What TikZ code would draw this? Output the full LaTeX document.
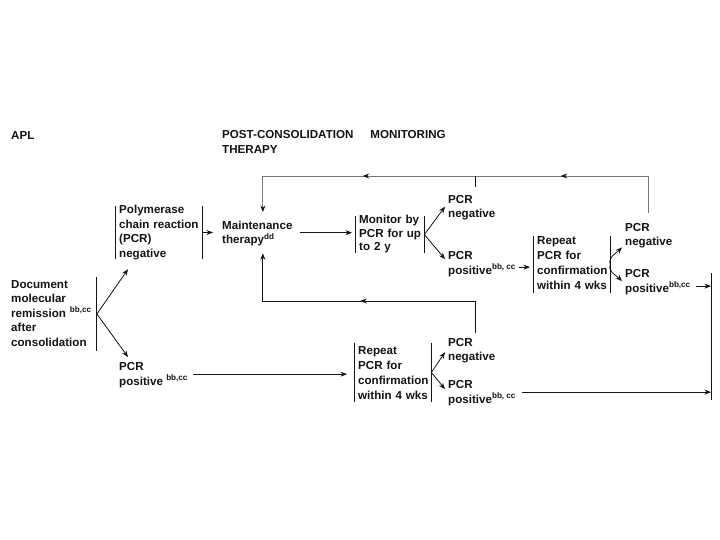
\documentclass[tikz,border=0pt]{standalone}
\usepackage{fontspec}
\setmainfont{Liberation Sans}
\usetikzlibrary{arrows.meta,calc,decorations.markings}
\definecolor{ink}{RGB}{20,20,20}
\definecolor{loopgray}{RGB}{120,120,120}
\newcommand{\tst}{\rule{0pt}{10pt}}
\begin{document}
\begin{tikzpicture}[x=1pt,y=-1pt,
  every node/.style={text=ink},
  fnt/.style={font=\fontsize{11.6}{#1}\selectfont\bfseries},
  fnt/.default=14.5,
  lbl/.style={anchor=north west, inner sep=0pt, align=left, fnt},
  brk/.style={anchor=base west, inner xsep=4pt, inner ysep=0pt, align=left, fnt},
  bar/.style={draw=ink, line width=0.9pt},
  ln/.style={draw=ink, line width=0.8pt},
  tip/.style={-{Stealth[length=6.5pt,width=5pt]}},
  arr/.style={ln, tip},
  grayln/.style={draw=loopgray, line width=0.9pt}]
\fill[white] (0,0) rectangle (720,540);
\useasboundingbox (0,0) rectangle (720,540);

\coordinate (topy) at (0,176);
\coordinate (boty) at (0,301);
\coordinate (bt) at (711,273);
\coordinate (bbot) at (711,400);

% headers
\node[lbl] (apl) at (11,129) {\tst APL};
\node[lbl, fnt=15] (head) at (222,128) {\tst POST-CONSOLIDATION\hspace{17pt}MONITORING\\THERAPY};

% document box
\node[brk, text width=81.5pt, text height=11pt, text depth=63pt] (doc) at (7,288)
  {\mbox{Document}\\\mbox{molecular}\\\mbox{remission \textsuperscript{bb,cc}}\\after\\\mbox{consolidation}};
\draw[bar] (doc.north east) -- (doc.south east);

% PCR negative box
\node[brk, text width=79pt, text height=8pt, text depth=45pt] (pb) at (115,214)
  {\mbox{Polymerase}\\\mbox{chain reaction}\\(PCR)\\\mbox{negative}};
\draw[bar] (pb.north west) -- (pb.south west) (pb.north east) -- (pb.south east);

% PCR positive (left)
\node[lbl] (pos0) at (119,360.5) {\tst PCR\\positive \textsuperscript{bb,cc}};

\draw[arr] (doc.east) -- ([xshift=13pt,yshift=-10pt]pb.south west);
\draw[arr] (doc.east) -- ([xshift=9pt,yshift=3.5pt]pos0.north west);

% maintenance
\node[lbl] (maint) at (222,219) {\tst Maintenance\\therapy\textsuperscript{dd}};
\draw[arr] (pb.east) -- ([xshift=-9pt]pb.east -| maint.west);

% monitor box
\node[brk, fnt=13.5, text width=61pt, text height=7.5pt, text depth=29.5pt] (mon) at (355,223.5)
  {\mbox{Monitor by}\\\mbox{PCR for up}\\\mbox{to 2 y}};
\draw[bar] (mon.north west) -- (mon.south west) (mon.north east) -- (mon.south east);
\draw[arr] ([xshift=7pt]maint.east) -- ([xshift=-3pt]maint.east -| mon.west);

\node[lbl] (neg1) at (448,193) {\tst PCR\\negative};
\node[lbl] (pos1) at (448,249.5) {\tst PCR\\positive\textsuperscript{bb, cc}};
\draw[arr] (mon.east) -- ([xshift=-3pt]neg1.west);
\draw[arr] (mon.east) -- ([xshift=-3pt,yshift=4pt]pos1.west);

% repeat box (upper)
\node[brk, fnt=15, text width=69pt, text height=8pt, text depth=49pt] (rep2) at (533,244)
  {Repeat\\\mbox{PCR for}\\\mbox{confirmation}\\\mbox{within 4 wks}};
\draw[bar] (rep2.north west) -- (rep2.south west) (rep2.north east) -- (rep2.south east);
\draw[arr] ([xshift=3pt,yshift=-4pt]pos1.east) -- ([xshift=-3pt,yshift=-4pt]pos1.east -| rep2.west);

\node[lbl] (neg2) at (625,221) {\tst PCR\\negative};
\node[lbl] (pos2) at (625,267.5) {\tst PCR\\positive\textsuperscript{bb,cc}};
\draw[arr] (rep2.east) .. controls +(-3,-7) and +(-6,6) .. ([xshift=-3pt,yshift=1pt]neg2.south west);
\draw[arr] (rep2.east) .. controls +(-3,7) and +(-6,-6) .. ([xshift=-3pt]pos2.west);

% right merge bar
\draw[bar] (bt) -- (bbot);
\draw[arr] ([xshift=5pt,yshift=-5pt]pos2.east) -- ([yshift=-5pt]pos2.east -| bt);

% repeat box (lower)
\node[brk, fnt=15, text width=69pt, text height=11.5pt, text depth=47.5pt] (rep1) at (354,354.5)
  {Repeat\\\mbox{PCR for}\\\mbox{confirmation}\\\mbox{within 4 wks}};
\draw[bar] (rep1.north west) -- (rep1.south west) (rep1.north east) -- (rep1.south east);
\draw[arr] ([xshift=5pt]pos0.east) -- ([xshift=-7pt]pos0.east -| rep1.west);

\node[lbl] (neg3) at (448,336) {\tst PCR\\negative};
\node[lbl] (pos3) at (448,378.5) {\tst PCR\\positive\textsuperscript{bb, cc}};
\draw[arr] (rep1.east) -- ([xshift=-3pt,yshift=-2.5pt]neg3.west);
\draw[arr] (rep1.east) -- ([xshift=-3pt,yshift=3pt]pos3.west);
\draw[arr] ([xshift=6pt]pos3.east) -- (pos3.east -| bbot);

% feedback loops
\coordinate (mtop) at ([xshift=5.5pt,yshift=7pt]maint.north);
\coordinate (mbot) at ([xshift=5.5pt,yshift=-7pt]maint.south);
\coordinate (n2t) at ([yshift=8pt]neg2.north);
\coordinate (n1t) at ([xshift=3.5pt,yshift=6pt]neg1.north);
\coordinate (n3t) at ([xshift=3.5pt,yshift=3pt]neg3.north);

\draw[grayln, -{Stealth[length=6.5pt,width=5pt,color=ink]},
  decoration={markings,
    mark=at position 125pt with {\arrow{Stealth[length=6.5pt,width=5pt,color=ink]}},
    mark=at position 323pt with {\arrow{Stealth[length=6.5pt,width=5pt,color=ink]}}},
  postaction={decorate}]
  (n2t) -- (n2t |- topy) -- (mtop |- topy) -- (mtop);
\draw[ln] (n1t) -- (n1t |- topy);

\draw[ln, tip,
  decoration={markings,
    mark=at position 147pt with {\arrow{Stealth[length=6.5pt,width=5pt]}}},
  postaction={decorate}]
  (n3t) -- (n3t |- boty) -- (mbot |- boty) -- (mbot);
\end{tikzpicture}
\end{document}
